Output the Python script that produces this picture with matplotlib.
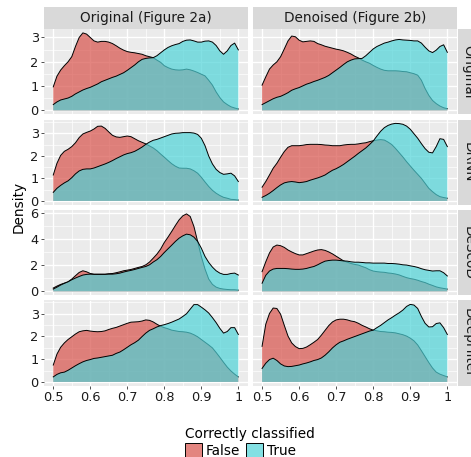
import matplotlib
matplotlib.use("Agg")
import matplotlib.pyplot as plt
from matplotlib.patches import Patch
import numpy as np

# ---------------- data ----------------
x_grid = [0.50, 0.51, 0.52, 0.53, 0.54, 0.55, 0.56, 0.57, 0.58, 0.59,
          0.60, 0.61, 0.62, 0.63, 0.64, 0.65, 0.66, 0.67, 0.68, 0.69,
          0.70, 0.71, 0.72, 0.73, 0.74, 0.75, 0.76, 0.77, 0.78, 0.79,
          0.80, 0.81, 0.82, 0.83, 0.84, 0.85, 0.86, 0.87, 0.88, 0.89,
          0.90, 0.91, 0.92, 0.93, 0.94, 0.95, 0.96, 0.97, 0.98, 0.99, 1.00]

columns = ["Original (Figure 2a)", "Denoised (Figure 2b)"]
rows = ["Original", "DRNN", "DeScoD", "DeepFilter"]
classes = ["False", "True"]

# Row "Original"
original_2a_false = [0.97, 1.41, 1.66, 1.84, 2.00, 2.21, 2.63, 3.00, 3.19, 3.14,
                     3.00, 2.86, 2.81, 2.84, 2.84, 2.81, 2.75, 2.66, 2.56, 2.48,
                     2.42, 2.39, 2.37, 2.34, 2.31, 2.25, 2.21, 2.17, 2.07, 1.98,
                     1.84, 1.76, 1.70, 1.67, 1.66, 1.67, 1.70, 1.67, 1.62, 1.56,
                     1.49, 1.42, 1.24, 1.04, 0.76, 0.53, 0.35, 0.24, 0.15, 0.10, 0.06]
original_2a_true = [0.24, 0.35, 0.43, 0.47, 0.51, 0.58, 0.68, 0.76, 0.84, 0.90,
                    0.95, 1.02, 1.09, 1.18, 1.24, 1.30, 1.36, 1.41, 1.48, 1.55,
                    1.65, 1.76, 1.87, 2.00, 2.10, 2.14, 2.16, 2.17, 2.25, 2.37,
                    2.49, 2.59, 2.66, 2.71, 2.75, 2.84, 2.89, 2.90, 2.86, 2.81,
                    2.81, 2.85, 2.86, 2.81, 2.67, 2.45, 2.31, 2.45, 2.67, 2.77, 2.49]
original_2b_false = [1.04, 1.38, 1.70, 1.87, 2.00, 2.21, 2.53, 2.86, 3.06, 3.03,
                     2.89, 2.82, 2.84, 2.86, 2.84, 2.75, 2.70, 2.64, 2.60, 2.56,
                     2.52, 2.49, 2.45, 2.39, 2.32, 2.23, 2.16, 2.07, 2.00, 1.94,
                     1.85, 1.77, 1.70, 1.65, 1.63, 1.63, 1.63, 1.62, 1.60, 1.59,
                     1.55, 1.51, 1.45, 1.24, 0.90, 0.62, 0.41, 0.28, 0.18, 0.11, 0.07]
original_2b_true = [0.24, 0.32, 0.40, 0.48, 0.54, 0.58, 0.65, 0.73, 0.83, 0.89,
                    0.94, 1.01, 1.08, 1.13, 1.19, 1.24, 1.30, 1.36, 1.44, 1.55,
                    1.66, 1.77, 1.89, 2.00, 2.07, 2.12, 2.13, 2.14, 2.25, 2.39,
                    2.53, 2.63, 2.70, 2.77, 2.81, 2.86, 2.90, 2.92, 2.90, 2.89,
                    2.88, 2.86, 2.86, 2.77, 2.60, 2.45, 2.38, 2.48, 2.63, 2.70, 2.39]
# Row "DRNN"
drnn_2a_false = [1.15, 1.67, 2.02, 2.20, 2.29, 2.41, 2.58, 2.81, 2.97, 3.04,
                 3.10, 3.19, 3.31, 3.32, 3.22, 3.06, 2.91, 2.84, 2.82, 2.85,
                 2.88, 2.85, 2.76, 2.67, 2.60, 2.53, 2.44, 2.35, 2.23, 2.08,
                 1.94, 1.79, 1.65, 1.54, 1.46, 1.45, 1.45, 1.42, 1.34, 1.23,
                 1.05, 0.84, 0.64, 0.47, 0.34, 0.24, 0.16, 0.12, 0.07, 0.06, 0.04]
drnn_2a_true = [0.38, 0.56, 0.69, 0.80, 0.89, 1.03, 1.20, 1.33, 1.40, 1.42,
                1.42, 1.46, 1.52, 1.58, 1.64, 1.71, 1.79, 1.88, 1.96, 2.04,
                2.10, 2.14, 2.20, 2.29, 2.39, 2.51, 2.61, 2.69, 2.73, 2.79,
                2.85, 2.91, 2.97, 3.00, 3.01, 3.03, 3.03, 3.03, 3.01, 2.95,
                2.78, 2.45, 1.99, 1.64, 1.40, 1.26, 1.18, 1.20, 1.23, 1.11, 0.86]
drnn_2b_false = [0.61, 0.86, 1.15, 1.45, 1.67, 1.94, 2.19, 2.38, 2.45, 2.45,
                 2.45, 2.47, 2.50, 2.51, 2.51, 2.51, 2.50, 2.48, 2.47, 2.45,
                 2.45, 2.45, 2.48, 2.50, 2.51, 2.51, 2.53, 2.56, 2.58, 2.63,
                 2.67, 2.70, 2.72, 2.70, 2.61, 2.50, 2.33, 2.14, 1.95, 1.74,
                 1.55, 1.36, 1.18, 1.00, 0.78, 0.56, 0.41, 0.28, 0.19, 0.15, 0.12]
drnn_2b_true = [0.16, 0.24, 0.34, 0.46, 0.59, 0.71, 0.80, 0.84, 0.86, 0.84,
                0.81, 0.83, 0.86, 0.92, 0.97, 1.02, 1.08, 1.15, 1.26, 1.36,
                1.43, 1.52, 1.62, 1.74, 1.86, 1.98, 2.11, 2.23, 2.35, 2.50,
                2.66, 2.88, 3.09, 3.25, 3.35, 3.41, 3.44, 3.43, 3.40, 3.32,
                3.18, 2.98, 2.78, 2.54, 2.32, 2.16, 2.13, 2.41, 2.76, 2.73, 2.41]
# Row "DeScoD"
descod_2a_false = [0.26, 0.41, 0.54, 0.64, 0.74, 0.95, 1.21, 1.46, 1.59, 1.51,
                   1.38, 1.33, 1.33, 1.33, 1.33, 1.36, 1.38, 1.44, 1.51, 1.59,
                   1.64, 1.69, 1.77, 1.85, 1.92, 2.05, 2.26, 2.56, 2.87, 3.26,
                   3.77, 4.18, 4.62, 5.08, 5.51, 5.82, 5.97, 5.77, 5.00, 3.85,
                   2.69, 1.72, 0.95, 0.54, 0.33, 0.23, 0.18, 0.15, 0.13, 0.13, 0.10]
descod_2a_true = [0.18, 0.33, 0.49, 0.62, 0.74, 0.90, 1.03, 1.15, 1.26, 1.31,
                  1.33, 1.31, 1.31, 1.31, 1.31, 1.33, 1.33, 1.36, 1.41, 1.49,
                  1.56, 1.62, 1.69, 1.77, 1.85, 1.92, 2.05, 2.26, 2.44, 2.69,
                  3.00, 3.28, 3.56, 3.85, 4.10, 4.28, 4.41, 4.36, 4.18, 3.85,
                  3.33, 2.69, 2.23, 1.87, 1.59, 1.41, 1.31, 1.31, 1.38, 1.41, 1.26]
descod_2b_false = [1.52, 2.28, 2.96, 3.42, 3.57, 3.52, 3.39, 3.19, 3.04, 2.91,
                   2.81, 2.81, 2.91, 3.01, 3.11, 3.19, 3.22, 3.16, 3.04, 2.89,
                   2.71, 2.53, 2.35, 2.25, 2.15, 2.08, 2.03, 1.92, 1.82, 1.67,
                   1.57, 1.52, 1.49, 1.47, 1.42, 1.39, 1.34, 1.27, 1.16, 1.06,
                   0.99, 0.94, 0.86, 0.76, 0.68, 0.56, 0.46, 0.35, 0.28, 0.23, 0.18]
descod_2b_true = [0.63, 1.24, 1.57, 1.72, 1.77, 1.77, 1.77, 1.75, 1.72, 1.70,
                  1.70, 1.72, 1.77, 1.85, 1.92, 2.05, 2.20, 2.33, 2.38, 2.41,
                  2.41, 2.38, 2.35, 2.33, 2.28, 2.25, 2.25, 2.23, 2.20, 2.20,
                  2.18, 2.18, 2.18, 2.18, 2.15, 2.15, 2.13, 2.10, 2.05, 2.03,
                  1.97, 1.92, 1.85, 1.75, 1.67, 1.62, 1.57, 1.59, 1.59, 1.44, 1.19]
# Row "DeepFilter"
deepfilter_2a_false = [0.74, 1.22, 1.52, 1.71, 1.86, 1.98, 2.10, 2.20, 2.24, 2.26,
                       2.23, 2.21, 2.20, 2.21, 2.24, 2.30, 2.35, 2.39, 2.45, 2.51,
                       2.57, 2.62, 2.63, 2.64, 2.67, 2.72, 2.70, 2.63, 2.53, 2.44,
                       2.38, 2.33, 2.27, 2.24, 2.21, 2.20, 2.18, 2.14, 2.07, 1.98,
                       1.86, 1.74, 1.62, 1.49, 1.29, 1.08, 0.86, 0.65, 0.48, 0.34, 0.22]
deepfilter_2a_true = [0.22, 0.33, 0.40, 0.43, 0.51, 0.61, 0.71, 0.80, 0.88, 0.94,
                      0.98, 1.03, 1.05, 1.08, 1.11, 1.14, 1.17, 1.25, 1.31, 1.41,
                      1.52, 1.63, 1.72, 1.83, 1.99, 2.14, 2.26, 2.33, 2.41, 2.47,
                      2.51, 2.56, 2.62, 2.69, 2.76, 2.87, 2.99, 3.19, 3.39, 3.39,
                      3.28, 3.16, 3.02, 2.82, 2.60, 2.35, 2.14, 2.21, 2.38, 2.38, 2.08]
deepfilter_2b_false = [1.56, 2.53, 3.00, 3.24, 3.22, 2.97, 2.48, 2.01, 1.71, 1.55,
                       1.46, 1.47, 1.53, 1.63, 1.74, 1.86, 2.05, 2.26, 2.47, 2.63,
                       2.72, 2.75, 2.75, 2.72, 2.67, 2.64, 2.57, 2.48, 2.41, 2.33,
                       2.27, 2.24, 2.21, 2.20, 2.18, 2.17, 2.15, 2.11, 2.07, 2.01,
                       1.92, 1.80, 1.62, 1.37, 1.11, 0.85, 0.61, 0.43, 0.34, 0.28, 0.22]
deepfilter_2b_true = [0.59, 0.82, 0.98, 1.04, 0.94, 0.79, 0.70, 0.67, 0.68, 0.71,
                      0.74, 0.79, 0.83, 0.88, 0.94, 0.98, 1.05, 1.17, 1.32, 1.49,
                      1.63, 1.74, 1.80, 1.87, 1.93, 1.99, 2.05, 2.11, 2.17, 2.23,
                      2.27, 2.38, 2.48, 2.60, 2.72, 2.82, 2.93, 3.03, 3.15, 3.31,
                      3.40, 3.37, 3.22, 2.87, 2.57, 2.41, 2.42, 2.56, 2.59, 2.38, 2.08]

x_ticks = [0.5, 0.6, 0.7, 0.8, 0.9, 1.0]
x_tick_labels = ["0.5", "0.6", "0.7", "0.8", "0.9", "1"]
row_y_ticks = [[0, 1, 2, 3], [0, 1, 2, 3], [0, 2, 4, 6], [0, 1, 2, 3]]

panels = [
    [(original_2a_false, original_2a_true), (original_2b_false, original_2b_true)],
    [(drnn_2a_false, drnn_2a_true), (drnn_2b_false, drnn_2b_true)],
    [(descod_2a_false, descod_2a_true), (descod_2b_false, descod_2b_true)],
    [(deepfilter_2a_false, deepfilter_2a_true), (deepfilter_2b_false, deepfilter_2b_true)],
]

# ---------------- style ----------------
W, H = 471, 457
DPI = 100
FS = 9.8
TICK_FS = 9.3
ALPHA = 0.7
fill_colors = {"False": "#D8524A", "True": "#4ED3D8"}
PANEL_BG = "#EBEBEB"
STRIP_BG = "#D9D9D9"
TEXT_C = "#1A1A1A"
TICK_C = "#333333"

fig = plt.figure(figsize=(W / DPI, H / DPI), dpi=DPI, facecolor="white")


def rect(x0, y0, x1, y1):
    return [x0 / W, 1 - y1 / H, (x1 - x0) / W, (y1 - y0) / H]


col_x = [(44.0, 247.6), (252.8, 456.6)]
row_top = 29.0
row_h = 85.3
row_gap = 5.2
row_y = [(row_top + i * (row_h + row_gap), row_top + i * (row_h + row_gap) + row_h) for i in range(4)]

x_minor = [0.55, 0.65, 0.75, 0.85, 0.95]

for r in range(4):
    ymax = max(max(panels[r][c][k]) for c in range(2) for k in range(2))
    ylim = (-0.05 * ymax, 1.05 * ymax)
    yt = row_y_ticks[r]
    step = yt[1] - yt[0]
    y_minor = [t + step / 2 for t in [yt[0] - step] + yt if ylim[0] <= t + step / 2 <= ylim[1]]
    for c in range(2):
        ax = fig.add_axes(rect(col_x[c][0], row_y[r][0], col_x[c][1], row_y[r][1]))
        ax.set_facecolor(PANEL_BG)
        for s in ax.spines.values():
            s.set_visible(False)
        ax.set_xlim(0.475, 1.025)
        ax.set_ylim(*ylim)
        for xm in x_minor:
            ax.axvline(xm, color="white", lw=0.5, zorder=0.5)
        for ym in y_minor:
            ax.axhline(ym, color="white", lw=0.5, zorder=0.5)
        for xt in x_ticks:
            ax.axvline(xt, color="white", lw=1.0, zorder=0.6)
        for t in yt:
            ax.axhline(t, color="white", lw=1.0, zorder=0.6)
        for k, cls in enumerate(classes):
            vals = panels[r][c][k]
            ax.fill_between(x_grid, 0, vals, facecolor=fill_colors[cls], alpha=ALPHA,
                            lw=0, zorder=2 + k)
            ax.plot(x_grid, vals, color="black", lw=0.7, zorder=2 + k + 0.5,
                    solid_joinstyle="round")
        ax.set_xticks(x_ticks)
        ax.set_yticks(yt)
        ax.tick_params(length=2.3, width=0.6, color=TICK_C, labelsize=TICK_FS,
                       labelcolor=TEXT_C, pad=1.5)
        if r == 3:
            ax.set_xticklabels(x_tick_labels)
        else:
            ax.tick_params(axis="x", bottom=False, labelbottom=False)
        if c == 0:
            ax.set_yticklabels([str(t) for t in yt])
        else:
            ax.tick_params(axis="y", left=False, labelleft=False)

# column strips
for c in range(2):
    sax = fig.add_axes(rect(col_x[c][0], 7.0, col_x[c][1], 28.5))
    sax.set_facecolor(STRIP_BG)
    sax.set_xticks([]); sax.set_yticks([])
    for s in sax.spines.values():
        s.set_visible(False)
    sax.text(0.5, 0.5, columns[c], ha="center", va="center", fontsize=FS, color=TEXT_C,
             transform=sax.transAxes)

# row strips (run past the right edge, as in the reference)
for r in range(4):
    sax = fig.add_axes(rect(457.6, row_y[r][0], 479.6, row_y[r][1]))
    sax.set_facecolor(STRIP_BG)
    sax.set_xticks([]); sax.set_yticks([])
    for s in sax.spines.values():
        s.set_visible(False)
    sax.text(0.5, 0.5, rows[r], ha="center", va="center", fontsize=FS, color=TEXT_C,
             rotation=-90, transform=sax.transAxes)

# y label
fig.text(18.5 / W, 1 - 207 / H, "Density", rotation=90, ha="center", va="center",
         fontsize=FS, color="black")

# legend
fig.text(185.3 / W, 1 - 438.0 / H, "Correctly classified", ha="left", va="baseline",
         fontsize=FS, color="black")
handles = [Patch(facecolor=matplotlib.colors.to_rgba(fill_colors[c], ALPHA),
                 edgecolor="black", linewidth=0.7) for c in classes]
leg = fig.legend(handles, classes, ncol=2,
                 loc="upper left", bbox_to_anchor=(185.3 / W, 1 - 443.0 / H),
                 frameon=False, fontsize=FS,
                 handlelength=1.22, handleheight=1.25, handletextpad=0.3,
                 columnspacing=0.45, borderpad=0, borderaxespad=0, labelspacing=0)

fig.savefig("out.png", dpi=DPI, facecolor="white")
